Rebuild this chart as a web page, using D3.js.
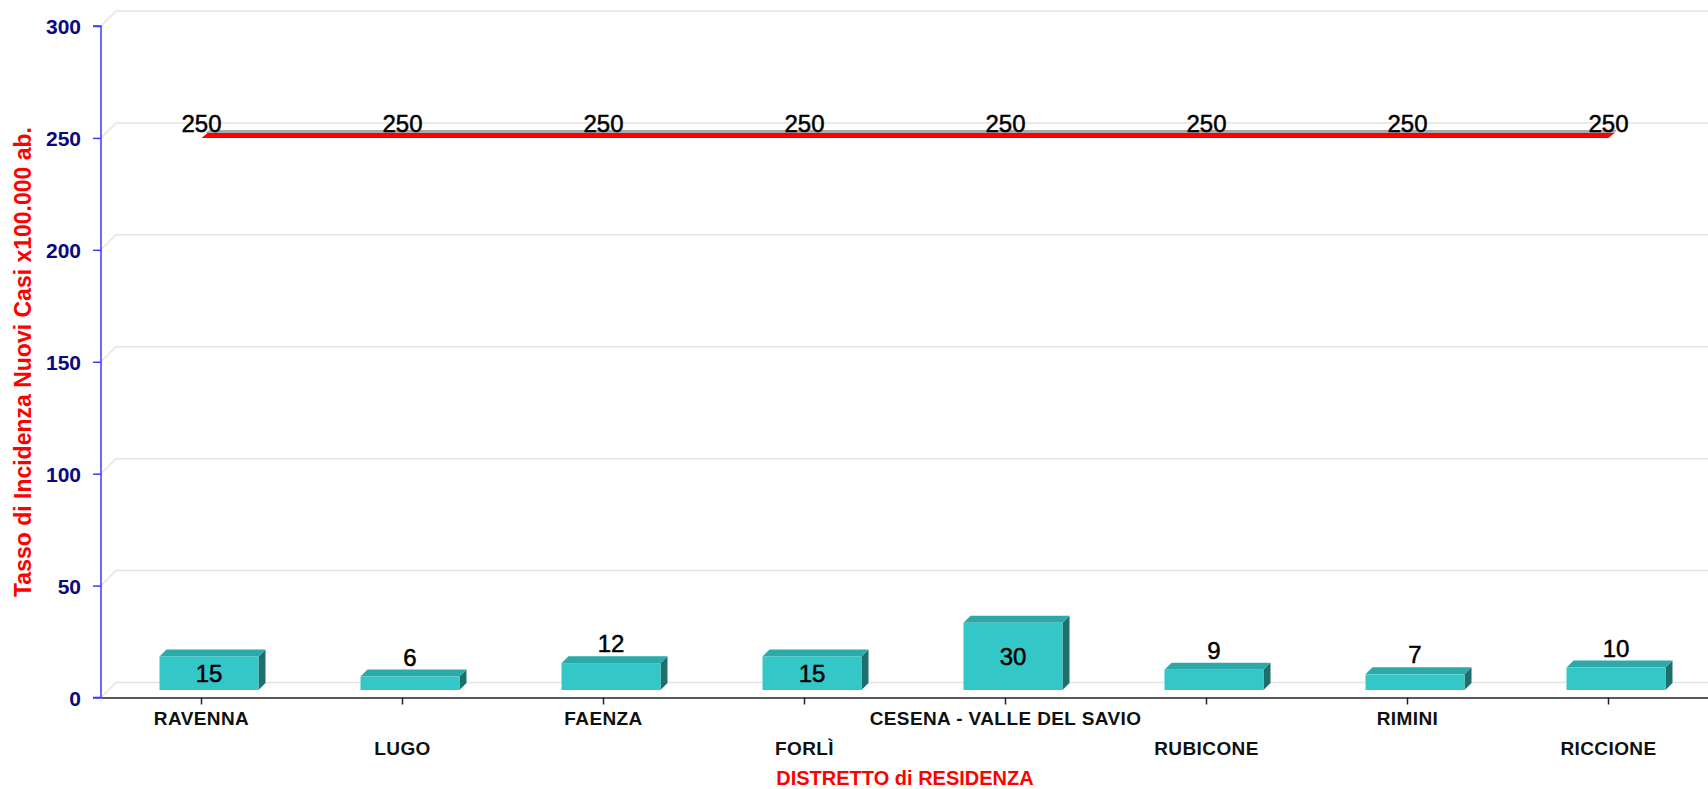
<!DOCTYPE html>
<html>
<head>
<meta charset="utf-8">
<script src="https://cdn.jsdelivr.net/npm/d3@7"></script>
<style>
  body { margin: 0; background: #fff; }
  svg { display: block; font-family: "Liberation Sans", Arial, sans-serif; }
</style>
</head>
<body>
<div id="chart"></div>
<script>
// data
var districts = ["RAVENNA", "LUGO", "FAENZA", "FORLÌ", "CESENA - VALLE DEL SAVIO", "RUBICONE", "RIMINI", "RICCIONE"];
var incidence = [15, 6, 12, 15, 30, 9, 7, 10];
var threshold = [250, 250, 250, 250, 250, 250, 250, 250];
var yTicks = [0, 50, 100, 150, 200, 250, 300];

var svgWidth = 1708;
var svgHeight = 789;

var margin = { top: 26, right: 0, bottom: 91.5, left: 101 };
var height = svgHeight - margin.top - margin.bottom;

// 3d depth of the back wall, bars sit half way in
var depth = 15;
var barShift = 7.5;

var svg = d3.select("#chart")
  .append("svg")
  .attr("width", svgWidth)
  .attr("height", svgHeight);

var yScale = d3.scaleLinear()
  .domain([0, 300])
  .range([margin.top + height, margin.top]);

var xScale = d3.scaleBand()
  .domain(districts)
  .range([101, 1709])
  .paddingInner(0)
  .paddingOuter(0);

var bw = xScale.bandwidth();
var y0 = yScale(0);

// back wall gridlines
var grid = svg.append("g");
yTicks.forEach(function(t) {
  var y = yScale(t);
  grid.append("path")
    .attr("d", `M${margin.left},${y} L${margin.left + depth},${y - depth} L${svgWidth},${y - depth}`)
    .attr("fill", "none")
    .attr("stroke", "#e4e4e4")
    .attr("stroke-width", 1.5);
});

// y axis
var leftAxis = d3.axisLeft(yScale).tickValues(yTicks).tickSize(8).tickPadding(12);
var yAxis = svg.append("g")
  .attr("transform", `translate(${margin.left},0)`)
  .call(leftAxis);
yAxis.select(".domain").attr("stroke", "#3a3aff").attr("stroke-width", 1.5).attr("d", `M-8,${y0}H0V${margin.top}H-8`);
yAxis.selectAll(".tick line").attr("stroke", "#3a3aff").attr("stroke-width", 1.5);
yAxis.selectAll(".tick text")
  .attr("fill", "#0a0a80")
  .attr("font-size", 21)
  .attr("font-weight", "bold")
  .attr("dy", "0.38em");

// x axis
var bottomAxis = d3.axisBottom(xScale).tickSize(7).tickSizeOuter(0);
var xAxis = svg.append("g")
  .attr("transform", `translate(0,${y0})`)
  .call(bottomAxis);
xAxis.select(".domain").attr("stroke", "#222").attr("stroke-width", 1.5);
xAxis.selectAll(".tick line").attr("stroke", "#222").attr("stroke-width", 1.5);
xAxis.selectAll(".tick text")
  .attr("fill", "#111")
  .attr("font-size", 19)
  .attr("font-weight", "bold")
  .attr("letter-spacing", 0.4)
  .attr("dy", null)
  .attr("y", (d, i) => i % 2 === 0 ? 27 : 57);

// bars
var barW = 99;
var bd = 7;
var bars = svg.append("g");
districts.forEach(function(c, i) {
  var cx = xScale(c) + bw / 2 + barShift;
  var x0 = cx - barW / 2;
  var x1 = cx + barW / 2;
  var yb = y0 - barShift;
  var yt = yScale(incidence[i]) - barShift;
  bars.append("path")
    .attr("d", `M${x1},${yt}L${x1 + bd},${yt - bd}L${x1 + bd},${yb - bd}L${x1},${yb}Z`)
    .attr("fill", "#1f6e6e");
  bars.append("path")
    .attr("d", `M${x0},${yt}L${x0 + bd},${yt - bd}L${x1 + bd},${yt - bd}L${x1},${yt}Z`)
    .attr("fill", "#2ca9a9");
  bars.append("rect")
    .attr("x", x0)
    .attr("y", yt)
    .attr("width", barW)
    .attr("height", yb - yt)
    .attr("fill", "#33c7c7");
  var inside = incidence[i] >= 15;
  bars.append("text")
    .attr("x", cx)
    .attr("y", inside ? (yt + yb) / 2 + 9 : yt - 11)
    .attr("text-anchor", "middle")
    .attr("font-size", 24)
    .attr("fill", "#000")
    .attr("stroke", "#000")
    .attr("stroke-width", 0.5)
    .text(incidence[i]);
});

// threshold line (3d ribbon)
var lineG = svg.append("g");
var lx0 = xScale(districts[0]) + bw / 2;
var lx1 = xScale(districts[districts.length - 1]) + bw / 2;
var ly = yScale(threshold[0]);
lineG.append("path")
  .attr("d", `M${lx0 + 4},${ly - 5}L${lx0 + 8},${ly - 8}L${lx1 + 8},${ly - 8}L${lx1 + 6},${ly - 5}Z`)
  .attr("fill", "#a9a9a9");
lineG.append("path")
  .attr("d", `M${lx0},${ly}L${lx0 + 6},${ly - 5}L${lx1 + 6},${ly - 5}L${lx1},${ly}Z`)
  .attr("fill", "#ff0000");
districts.forEach(function(c, i) {
  lineG.append("text")
    .attr("x", xScale(c) + bw / 2)
    .attr("y", yScale(threshold[i]) - 6)
    .attr("text-anchor", "middle")
    .attr("font-size", 24)
    .attr("fill", "#000")
    .attr("stroke", "#000")
    .attr("stroke-width", 0.5)
    .text(threshold[i]);
});

// axis titles
svg.append("text")
  .attr("x", 905)
  .attr("y", 785)
  .attr("text-anchor", "middle")
  .attr("font-size", 20)
  .attr("font-weight", "bold")
  .attr("fill", "#ff0000")
  .text("DISTRETTO di RESIDENZA");

svg.append("text")
  .attr("transform", "translate(31,362) rotate(-90)")
  .attr("text-anchor", "middle")
  .attr("font-size", 23)
  .attr("font-weight", "bold")
  .attr("fill", "#ff0000")
  .text("Tasso di Incidenza Nuovi Casi x100.000 ab.");
</script>
</body>
</html>
